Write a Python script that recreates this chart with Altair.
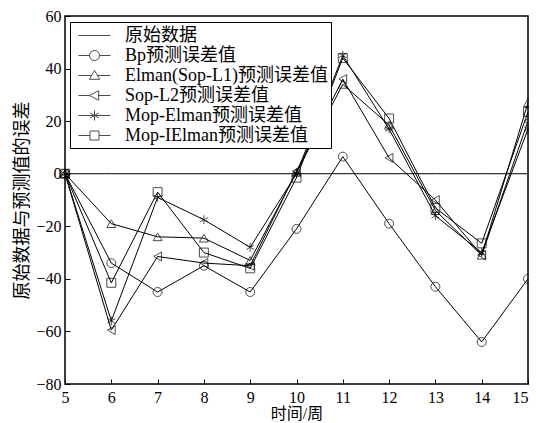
import altair as alt
import pandas as pd

# ---- data ----
weeks = [5, 6, 7, 8, 9, 10, 11, 12, 13, 14, 15]
series_names = ["原始数据", "Bp预测误差值", "Elman(Sop-L1)预测误差值",
                "Sop-L2预测误差值", "Mop-Elman预测误差值", "Mop-IElman预测误差值"]
original = [0, 0, 0, 0, 0, 0, 0, 0, 0, 0, 0]
bp = [0, -34, -45, -35, -45, -21, 6.5, -19, -43, -64, -40]
elman = [0, -19, -24, -24.5, -33, 0.5, 34, 18.5, -14, -31, 27]
sop_l2 = [0, -59.5, -31.5, -34, -35, 1, 36, 6, -10, -31, 20]
mop_elman = [0, -56, -9, -17.5, -28, 0, 45, 17, -16, -30, 17]
mop_ielman = [0, -41.5, -7, -30, -36, -1.5, 44, 21, -13, -26.5, 23.5]
y_ticks = [-80, -60, -40, -20, 0, 20, 40, 60]

all_series = [original, bp, elman, sop_l2, mop_elman, mop_ielman]
rows = []
for name, vals in zip(series_names, all_series):
    for w, v in zip(weeks, vals):
        rows.append({"week": w, "err": v, "series": name})
df = pd.DataFrame(rows)

FONT = "Liberation Serif, Noto Sans CJK SC"
W, H = 463, 368

# marker shapes for the plot
star = "M0,-1V1M-0.87,-0.5L0.87,0.5M-0.87,0.5L0.87,-0.5"
point_shapes = ["circle", "triangle-up", "triangle-left", star, "square"]

# legend symbols: line with marker (unit = 10px)
leg_shapes = [
    "M-1.6,0H1.6",
    "M-1.6,0H-0.5M0.5,0H1.6M-0.5,0A0.5,0.5 0 1,1 0.5,0A0.5,0.5 0 1,1 -0.5,0",
    "M-1.6,0H-0.3M0.3,0H1.6M0,-0.5L0.52,0.38L-0.52,0.38Z",
    "M-1.6,0H-0.5M0.42,0H1.6M-0.5,0L0.42,-0.48L0.42,0.48Z",
    "M-1.6,0H1.6M0,-0.5V0.5M-0.43,-0.25L0.43,0.25M-0.43,0.25L0.43,-0.25",
    "M-1.6,0H-0.45M0.45,0H1.6M-0.45,-0.45H0.45V0.45H-0.45Z",
]

x_scale = alt.Scale(domain=[5, 15], nice=False, zero=False)
y_scale = alt.Scale(domain=[-80, 60], nice=False, zero=False)

base = alt.Chart(df)

lines = base.mark_line(color="black", strokeWidth=1).encode(
    x=alt.X("week:Q", scale=x_scale,
            axis=alt.Axis(values=weeks, title="时间/周", tickSize=0, labelFlush=False,
                          labelAlign={"condition": {"test": "datum.value == 15", "value": "right"},
                                      "value": "center"},
                          grid=False, domain=False, labelPadding=5, titlePadding=0,
                          labelFontSize=16, titleFontSize=16)),
    y=alt.Y("err:Q", scale=y_scale,
            axis=alt.Axis(values=y_ticks, title="原始数据与预测值的误差", tickSize=0,
                          grid=False, domain=False, labelPadding=4, titlePadding=4,
                          labelFontSize=16, titleFontSize=18)),
    detail="series:N",
    order="week:Q",
)

points = base.transform_filter(alt.datum.series != "原始数据").mark_point(
    filled=False, color="black", size=80, strokeWidth=1
).encode(
    x=alt.X("week:Q", scale=x_scale,
            axis=alt.Axis(orient="top", offset=-H, values=weeks, labels=False, title=None,
                          tickSize=5, grid=False, domain=False)),
    y=alt.Y("err:Q", scale=y_scale,
            axis=alt.Axis(orient="right", offset=-W, values=y_ticks, labels=False, title=None,
                          tickSize=5, grid=False, domain=False)),
    shape=alt.Shape("series:N", scale=alt.Scale(domain=series_names[1:], range=point_shapes),
                    legend=None),
)

legend_layer = base.transform_filter("datum.week > 1000").mark_point(
    filled=False, color="black", strokeWidth=1
).encode(
    shape=alt.Shape("series:N", scale=alt.Scale(domain=series_names, range=leg_shapes),
                    legend=alt.Legend(title=None, orient="none", legendX=5, legendY=6,
                                      padding=3, strokeColor="black", fillColor="white",
                                      labelFont=FONT, labelFontSize=18, labelColor="black",
                                      labelLimit=400, labelOffset=20, rowPadding=0,
                                      symbolSize=400, symbolOffset=11, symbolStrokeWidth=1,
                                      symbolStrokeColor="black",
                                      symbolFillColor="transparent")),
)

chart = alt.layer(lines, points, legend_layer).resolve_scale(
    shape="independent"
).resolve_axis(
    x="independent", y="independent"
).properties(
    width=W, height=H,
    autosize=alt.AutoSizeParams(type="none"),
    padding={"left": 57, "top": 8, "right": 1, "bottom": 40},
).configure_axis(
    labelFont=FONT, titleFont=FONT, labelColor="black", titleColor="black",
    tickColor="black", titleFontWeight="normal",
).configure_view(
    stroke="black", strokeWidth=1.5
)

chart.save("out.html", embed_options={"renderer": "svg", "actions": False})
